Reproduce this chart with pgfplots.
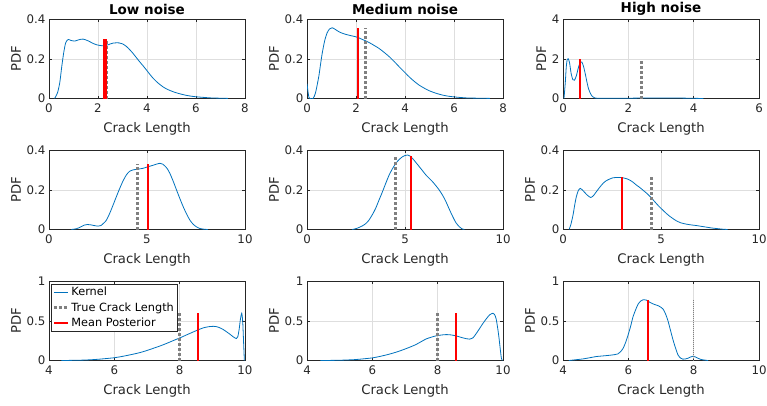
\documentclass[border=0pt]{standalone}
\usepackage{pgfplots}
\pgfplotsset{compat=1.18}
\usepackage{fontspec}
\setmainfont{DejaVu Sans}
\definecolor{mblue}{rgb}{0,0.447,0.741}
\definecolor{axc}{rgb}{0.15,0.15,0.15}
\definecolor{gridc}{rgb}{0.87,0.87,0.87}
\pgfplotsset{
  panel/.style={
    scale only axis, width=196pt, height=79.5pt,
    axis line style={axc, line width=0.6pt},
    tick style={axc, line width=0.5pt},
    major tick length=3pt,
    tick align=inside, tick pos=both,
    grid=major, major grid style={gridc, line width=0.5pt},
    /pgf/number format/assume math mode=true,
    ticklabel style={font=\fontsize{11.8}{12}\selectfont, text=axc},
    xticklabel style={yshift=-1.5pt},
    xlabel={Crack Length}, ylabel={PDF},
    label style={font=\fontsize{13.2}{14}\selectfont, text=axc},
    xlabel style={yshift=-3pt},
    ylabel style={yshift=-1pt},
    title style={font=\bfseries\fontsize{13.5}{14}\selectfont, yshift=-5.5pt},
    ymin=0, anchor=north west, clip=true,
  },
  row1/.style={xmin=0,xmax=8,ymax=0.4,xtick={0,2,4,6,8},ytick={0,0.2,0.4}},
  row2/.style={xmin=0,xmax=10,ymax=0.4,xtick={0,5,10},ytick={0,0.2,0.4}},
  row3/.style={xmin=4,xmax=10,ymax=1,xtick={4,6,8,10},ytick={0,0.5,1}},
  kern/.style={mblue, line width=0.8pt, smooth, tension=0.4},
  truel/.style={gray, line width=3pt, dash pattern=on 3pt off 2pt},
  meanl/.style={red, line width=2pt},
}
\begin{document}
\begin{tikzpicture}
\path[use as bounding box] (0,0) rectangle (767pt,-405pt);
% ---------- Row 1 ----------
\begin{axis}[panel,row1,at={(49pt,-19pt)},title={Low noise}]
\addplot[kern] table {
0.23 0
0.35 0.03
0.44 0.08
0.52 0.16
0.6 0.23
0.68 0.28
0.78 0.297
0.9 0.292
1.05 0.289
1.2 0.295
1.39 0.299
1.6 0.29
1.8 0.277
1.95 0.27
2.2 0.265
2.4 0.27
2.62 0.279
2.85 0.28
3.0 0.275
3.16 0.262
3.3 0.245
3.43 0.227
3.57 0.205
3.7 0.185
3.85 0.163
3.98 0.143
4.12 0.121
4.25 0.102
4.45 0.078
4.66 0.058
4.85 0.045
5.07 0.034
5.3 0.025
5.6 0.016
5.9 0.01
6.16 0.007
6.6 0.003
7.0 0.0015
7.3 0.0005
};
\addplot[gray, line width=2pt, dash pattern=on 3pt off 2pt] coordinates {(2.35,0) (2.35,0.299)};
\addplot[red, line width=4pt] coordinates {(2.3,0) (2.3,0.299)};
\end{axis}
\begin{axis}[panel,row1,at={(307pt,-19pt)},title={Medium noise}]
\addplot[kern] table {
0 0.075
0.04 0.035
0.08 0.005
0.12 0
0.25 0
0.35 0.03
0.48 0.11
0.55 0.17
0.62 0.227
0.72 0.29
0.82 0.33
0.92 0.35
1.03 0.356
1.15 0.348
1.3 0.336
1.45 0.328
1.6 0.322
1.8 0.316
1.98 0.311
2.1 0.306
2.26 0.297
2.4 0.29
2.53 0.282
2.7 0.27
2.94 0.252
3.15 0.232
3.36 0.21
3.56 0.186
3.76 0.16
3.96 0.135
4.17 0.109
4.37 0.087
4.58 0.067
4.8 0.051
4.99 0.039
5.25 0.027
5.54 0.017
5.8 0.011
6.09 0.007
6.5 0.003
7.0 0.0015
7.46 0.0005
};
\addplot[truel] coordinates {(2.4,0) (2.4,0.356)};
\addplot[meanl] coordinates {(2.1,0) (2.1,0.356)};
\end{axis}
\begin{axis}[panel,row1,at={(563pt,-19pt)},title={High noise},xmax=6,ymax=4,xtick={0,2,4,6},ytick={0,2,4}]
\addplot[kern] table {
0.03 0
0.07 0.8
0.1 1.6
0.13 1.97
0.16 2.0
0.2 1.8
0.25 1.25
0.3 0.95
0.35 0.92
0.41 1.15
0.47 1.55
0.53 1.83
0.58 1.83
0.63 1.6
0.68 1.25
0.73 0.85
0.78 0.5
0.84 0.25
0.9 0.1
0.97 0.03
1.05 0.01
1.5 0.01
2.0 0.015
2.5 0.025
3.0 0.03
3.5 0.025
4.0 0.01
4.3 0.0
};
\addplot[truel] coordinates {(2.4,0) (2.4,2.0)};
\addplot[meanl] coordinates {(0.51,0) (0.51,2.0)};
\end{axis}
% ---------- Row 2 ----------
\begin{axis}[panel,row2,at={(49pt,-150pt)}]
\addplot[kern] table {
1.14 0
1.4 0.004
1.6 0.012
1.8 0.022
1.95 0.025
2.1 0.024
2.3 0.02
2.5 0.017
2.65 0.02
2.8 0.033
2.93 0.047
3.1 0.082
3.27 0.123
3.44 0.166
3.61 0.207
3.78 0.245
3.95 0.275
4.1 0.292
4.29 0.3
4.5 0.303
4.8 0.308
5.06 0.316
5.3 0.323
5.49 0.329
5.66 0.333
5.8 0.329
5.91 0.32
6.04 0.305
6.17 0.282
6.34 0.242
6.51 0.198
6.68 0.155
6.85 0.114
7.02 0.078
7.19 0.047
7.36 0.026
7.53 0.013
7.7 0.005
7.87 0.002
8.1 0
};
\addplot[truel] coordinates {(4.5,0) (4.5,0.33)};
\addplot[meanl] coordinates {(5.05,0) (5.05,0.33)};
\end{axis}
\begin{axis}[panel,row2,at={(307pt,-150pt)}]
\addplot[kern] table {
2.31 0
2.55 0.006
2.82 0.018
3.0 0.03
3.16 0.047
3.33 0.074
3.5 0.106
3.67 0.147
3.85 0.19
4.02 0.233
4.19 0.274
4.36 0.306
4.53 0.333
4.7 0.352
4.87 0.366
5.0 0.372
5.13 0.375
5.25 0.37
5.38 0.358
5.55 0.338
5.73 0.316
5.9 0.295
6.07 0.274
6.24 0.257
6.41 0.24
6.58 0.22
6.75 0.198
6.92 0.172
7.09 0.14
7.26 0.102
7.44 0.064
7.6 0.034
7.78 0.013
7.9 0.004
8.03 0
};
\addplot[truel] coordinates {(4.5,0) (4.5,0.372)};
\addplot[meanl] coordinates {(5.32,0) (5.32,0.372)};
\end{axis}
\begin{axis}[panel,row2,at={(563pt,-150pt)}]
\addplot[kern] table {
0.31 0
0.4 0.025
0.51 0.072
0.6 0.125
0.68 0.165
0.78 0.196
0.88 0.207
0.98 0.2
1.1 0.187
1.25 0.172
1.41 0.161
1.55 0.17
1.7 0.19
1.87 0.212
2.04 0.232
2.2 0.245
2.38 0.254
2.55 0.26
2.72 0.262
2.9 0.262
3.06 0.26
3.23 0.256
3.4 0.249
3.57 0.238
3.74 0.224
3.91 0.212
4.08 0.198
4.25 0.184
4.42 0.168
4.59 0.15
4.76 0.131
4.93 0.113
5.1 0.097
5.27 0.081
5.44 0.067
5.61 0.055
5.78 0.044
6.0 0.034
6.29 0.027
6.55 0.023
6.8 0.02
7.05 0.016
7.31 0.012
7.56 0.008
7.82 0.005
8.1 0.002
8.4 0
};
\addplot[truel] coordinates {(4.5,0) (4.5,0.262)};
\addplot[meanl] coordinates {(3.03,0) (3.03,0.262)};
\end{axis}
% ---------- Row 3 ----------
\begin{axis}[panel,row3,at={(49pt,-281pt)},
  legend style={at={(0.01,0.965)}, anchor=north west, draw=axc, fill=white,
    font=\fontsize{11.3}{12}\selectfont, inner sep=1.2pt, row sep=1.2pt,
    legend cell align=left, line width=0.6pt},
  legend image code/.code={\draw[#1] (0pt,0pt) -- (14pt,0pt);}]
\addplot[kern] table {
4.38 0
4.7 0.002
5.04 0.005
5.3 0.01
5.55 0.017
5.76 0.025
5.96 0.033
6.17 0.046
6.37 0.062
6.58 0.08
6.78 0.099
6.99 0.125
7.19 0.153
7.4 0.183
7.6 0.215
7.8 0.25
8.01 0.285
8.21 0.322
8.42 0.36
8.57 0.387
8.72 0.41
8.88 0.425
9.03 0.43
9.14 0.425
9.24 0.41
9.34 0.388
9.44 0.36
9.54 0.33
9.64 0.298
9.7 0.282
9.74 0.277
9.78 0.3
9.82 0.39
9.86 0.52
9.9 0.595
9.93 0.49
9.95 0.3
9.97 0.1
9.98 0
};
\addlegendentry{Kernel}
\addplot[truel] coordinates {(8,0) (8,0.595)};
\addlegendentry{True Crack Length}
\addplot[meanl] coordinates {(8.56,0) (8.56,0.595)};
\addlegendentry{Mean Posterior}
\end{axis}
\begin{axis}[panel,row3,at={(307pt,-281pt)}]
\addplot[kern] table {
4.41 0
4.97 0.003
5.49 0.012
6.0 0.033
6.25 0.053
6.51 0.079
6.72 0.104
6.92 0.132
7.13 0.165
7.33 0.2
7.49 0.236
7.64 0.27
7.8 0.293
7.95 0.31
8.1 0.32
8.26 0.326
8.41 0.322
8.56 0.31
8.67 0.297
8.77 0.285
8.87 0.275
8.97 0.269
9.08 0.285
9.18 0.339
9.28 0.4
9.38 0.463
9.49 0.525
9.59 0.574
9.69 0.595
9.74 0.58
9.79 0.525
9.84 0.4
9.88 0.277
9.92 0.13
9.95 0.03
9.98 0
};
\addplot[truel] coordinates {(8,0) (8,0.595)};
\addplot[meanl] coordinates {(8.56,0) (8.56,0.595)};
\end{axis}
\begin{axis}[panel,row3,at={(563pt,-281pt)}]
\addplot[kern] table {
4.18 0
4.4 0.01
4.61 0.02
4.82 0.035
5.02 0.05
5.23 0.058
5.43 0.066
5.58 0.074
5.68 0.083
5.76 0.11
5.84 0.153
5.92 0.23
5.99 0.318
6.07 0.43
6.14 0.545
6.22 0.635
6.3 0.71
6.38 0.748
6.45 0.764
6.55 0.76
6.62 0.742
6.7 0.723
6.8 0.705
6.91 0.69
6.99 0.672
7.06 0.649
7.13 0.595
7.21 0.504
7.29 0.38
7.37 0.256
7.45 0.15
7.52 0.07
7.6 0.03
7.67 0.017
7.75 0.02
7.83 0.029
7.91 0.045
7.98 0.054
8.05 0.045
8.13 0.029
8.21 0.015
8.29 0.008
8.44 0
};
\addplot[gray, line width=0.6pt, dash pattern=on 1pt off 1pt] coordinates {(8,0) (8,0.764)};
\addplot[meanl] coordinates {(6.6,0) (6.6,0.764)};
\end{axis}
\end{tikzpicture}
\end{document}
